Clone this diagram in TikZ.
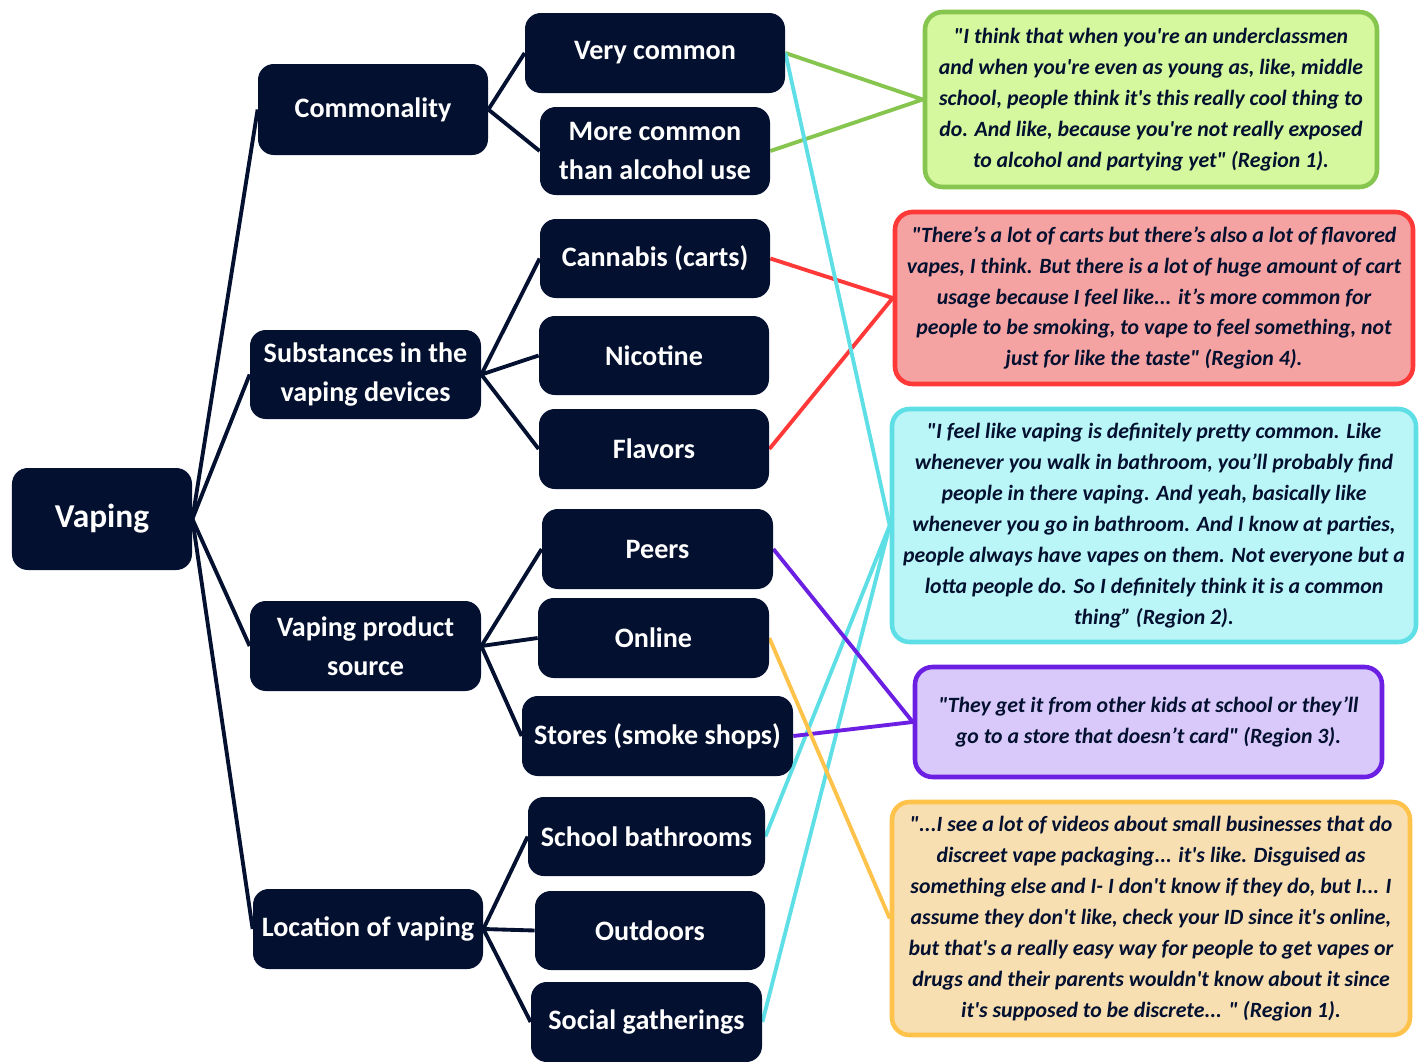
\documentclass[tikz,border=0pt]{standalone}
\usepackage{fontspec}
\newfontfamily\vpfont{Carlito}
\newfontfamily\vpquote{Carlito Bold Italic}
\usetikzlibrary{positioning,backgrounds}
\definecolor{vpNavy}{HTML}{03102F}
\definecolor{qGreen}{HTML}{86C54E}
\definecolor{qGreenBg}{HTML}{D5F79E}
\definecolor{qRed}{HTML}{FF3838}
\definecolor{qRedBg}{HTML}{F4A2A2}
\definecolor{qCyan}{HTML}{5EDFE6}
\definecolor{qCyanBg}{HTML}{BAF6F8}
\definecolor{qPurple}{HTML}{6B1FE3}
\definecolor{qPurpleBg}{HTML}{D9C9FA}
\definecolor{qOrange}{HTML}{FFC24A}
\definecolor{qOrangeBg}{HTML}{F8DFB2}
\tikzset{
  vpnode/.style={
    fill=vpNavy, text=white, rounded corners=9pt, inner sep=0pt, align=center,
    font=\vpfont\fontsize{16}{22}\selectfont\bfseries,
    minimum width=46mm, minimum height=16mm
  },
  rootnode/.style={vpnode, font=\vpfont\fontsize{19}{23}\selectfont\bfseries},
  quotebox/.style={
    rounded corners=10pt, line width=2.6pt, inner sep=0pt, align=center, text=vpNavy,
    font=\vpquote\fontsize{12.4}{17.6}\selectfont
  },
  branch/.style={line width=2.2pt, vpNavy},
  link/.style={line width=2.2pt}
}
\begin{document}
\begin{tikzpicture}
  \useasboundingbox (0,0) rectangle (28.48,-21.24);
  % tree
  \node[rootnode, minimum width=36mm, minimum height=20.4mm] (vaping) at (2.04,-10.38) {Vaping};
  \node[vpnode, minimum height=18.2mm] (common) at (7.46,-2.19) {Commonality};
  \node[vpnode, minimum width=46.2mm, minimum height=17.8mm] (subst) at (7.31,-7.49) {Substances in the\\vaping devices};
  \node[vpnode, minimum width=46.2mm, minimum height=18mm] (source) at (7.31,-12.92) {Vaping product\\source};
  \node[vpnode] (location) at (7.36,-18.58) {Location of vaping};

  \node[vpnode, minimum width=52mm] (verycommon) at (13.1,-1.06) {Very common};
  \node[vpnode, minimum height=17.6mm] (morecommon) at (13.1,-3.02) {More common\\than alcohol use};
  \node[vpnode, minimum height=15.8mm] (carts) at (13.1,-5.17) {Cannabis (carts)};
  \node[vpnode, minimum height=15.8mm] (nicotine) at (13.08,-7.11) {Nicotine};
  \node[vpnode] (flavors) at (13.08,-8.98) {Flavors};
  \node[vpnode, minimum width=46.2mm] (peers) at (13.15,-10.98) {Peers};
  \node[vpnode, minimum width=46.2mm] (online) at (13.07,-12.76) {Online};
  \node[vpnode, minimum width=54.2mm] (stores) at (13.15,-14.72) {Stores (smoke shops)};
  \node[vpnode, minimum width=47.4mm, minimum height=15.8mm] (bathrooms) at (12.93,-16.73) {School bathrooms};
  \node[vpnode, minimum height=15.8mm] (outdoors) at (13.0,-18.61) {Outdoors};
  \node[vpnode, minimum width=46.2mm] (gatherings) at (12.93,-20.44) {Social gatherings};

  % quotes
  \node[quotebox, draw=qGreen, fill=qGreenBg, minimum width=90.4mm, minimum height=35mm] (qone) at (23.02,-1.99)
    {"I think that when you're an underclassmen\\and when you're even as young as, like, middle\\school, people think it's this really cool thing to\\do. And like, because you're not really exposed\\to alcohol and partying yet" (Region 1).};
  \node[quotebox, draw=qRed, fill=qRedBg, minimum width=103.6mm, minimum height=34.4mm] (qfour) at (23.08,-5.96)
    {"There’s a lot of carts but there’s also a lot of flavored\\vapes, I think. But there is a lot of huge amount of cart\\usage because I feel like... it’s more common for\\people to be smoking, to vape to feel something, not\\just for like the taste" (Region 4).};
  \node[quotebox, draw=qCyan, fill=qCyanBg, minimum width=104.8mm, minimum height=46.6mm] (qtwo) at (23.08,-10.51)
    {"I feel like vaping is definitely pretty common. Like\\whenever you walk in bathroom, you’ll probably find\\people in there vaping. And yeah, basically like\\whenever you go in bathroom. And I know at parties,\\people always have vapes on them. Not everyone but a\\lotta people do. So I definitely think it is a common\\thing” (Region 2).};
  \node[quotebox, draw=qPurple, fill=qPurpleBg, minimum width=93.4mm, minimum height=22mm] (qthree) at (22.97,-14.44)
    {"They get it from other kids at school or they’ll\\go to a store that doesn’t card" (Region 3).};
  \node[quotebox, draw=qOrange, fill=qOrangeBg, minimum width=103.6mm, minimum height=46.6mm] (qfive) at (23.02,-18.37)
    {"...I see a lot of videos about small businesses that do\\discreet vape packaging... it's like. Disguised as\\something else and I- I don't know if they do, but I... I\\assume they don't like, check your ID since it's online,\\but that's a really easy way for people to get vapes or\\drugs and their parents wouldn't know about it since\\it's supposed to be discrete... " (Region 1).};

  \begin{scope}[on background layer]
    \foreach \n in {common,subst,source,location}
      \draw[branch] (vaping.east) -- (\n.west);
    \foreach \n in {verycommon,morecommon}
      \draw[branch] (common.east) -- (\n.west);
    \foreach \n in {carts,nicotine,flavors}
      \draw[branch] (subst.east) -- (\n.west);
    \foreach \n in {peers,online,stores}
      \draw[branch] (source.east) -- (\n.west);
    \foreach \n in {bathrooms,outdoors,gatherings}
      \draw[branch] (location.east) -- (\n.west);
    % links to quotes
    \draw[link, qGreen] (verycommon.east) -- (qone.west) -- (morecommon.east);
    \draw[link, qRed] (carts.east) -- (qfour.west) -- (flavors.east);
    \draw[link, qCyan] (verycommon.east) -- (qtwo.west);
    \draw[link, qCyan] (bathrooms.east) -- (qtwo.west) -- (gatherings.east);
    \draw[link, qPurple] (peers.east) -- (qthree.west) -- (stores.east);
    \draw[link, qOrange] (online.east) -- (qfive.west);
  \end{scope}
\end{tikzpicture}
\end{document}
